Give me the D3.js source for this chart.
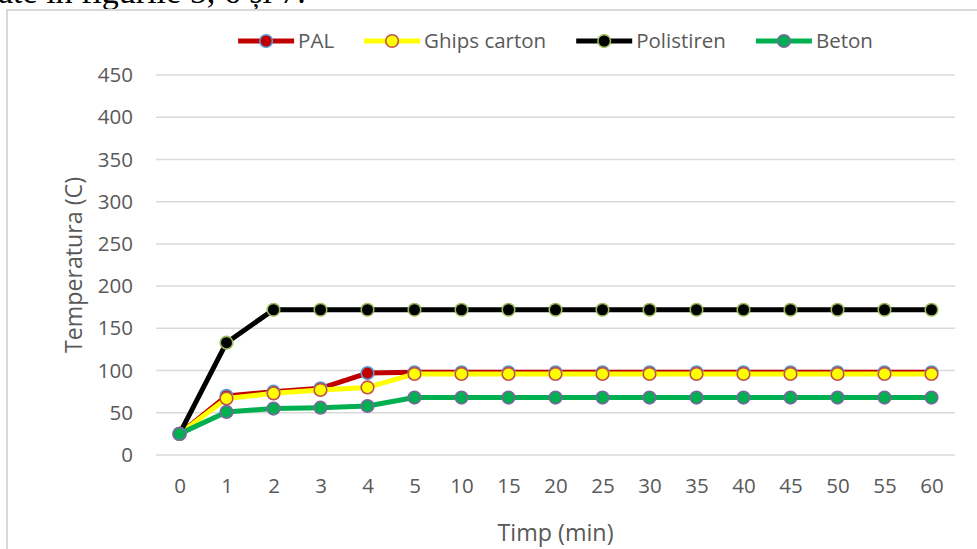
<!DOCTYPE html>
<html>
<head>
<meta charset="utf-8">
<script src="https://cdn.jsdelivr.net/npm/d3@7"></script>
<style>
  body { margin: 0; background: #fff; }
  svg { display: block; }
</style>
</head>
<body>
<div id="chart"></div>
<script>
// Data
const categories = ["0", "1", "2", "3", "4", "5", "10", "15", "20", "25", "30", "35", "40", "45", "50", "55", "60"];
const pal        = [25, 70, 75, 79, 97, 98, 98, 98, 98, 98, 98, 98, 98, 98, 98, 98, 98];
const ghips      = [25, 67, 73, 77, 80, 96, 96, 96, 96, 96, 96, 96, 96, 96, 96, 96, 96];
const polistiren = [25, 133, 172, 172, 172, 172, 172, 172, 172, 172, 172, 172, 172, 172, 172, 172, 172];
const beton      = [25, 51, 55, 56, 58, 68, 68, 68, 68, 68, 68, 68, 68, 68, 68, 68, 68];
const yTicks = [0, 50, 100, 150, 200, 250, 300, 350, 400, 450];

const series = [
  { name: "PAL", values: pal, line: "#C00000", fill: "#C00000", edge: "#5B9BD5" },
  { name: "Ghips carton", values: ghips, line: "#FFFF00", fill: "#FFFF00", edge: "#C0504D" },
  { name: "Polistiren", values: polistiren, line: "#000000", fill: "#000000", edge: "#9BBB59" },
  { name: "Beton", values: beton, line: "#00B050", fill: "#00B050", edge: "#8064A2" },
];

const width = 977, height = 549;
const plot = { left: 156, right: 955, top: 75, bottom: 455 };
const font = "'Open Sans', sans-serif";
const textColor = "#595959";

const svg = d3.select("#chart").append("svg")
  .attr("width", width)
  .attr("height", height);

// cut-off line of document text above the chart
svg.append("text")
  .attr("x", -2)
  .attr("y", 3)
  .attr("font-family", "'Liberation Serif', serif")
  .attr("font-size", 34)
  .attr("fill", "#000")
  .text("ate în figurile 5, 6 și 7.");

// chart frame
svg.append("path")
  .attr("d", `M7,${height} V10 H${width}`)
  .attr("fill", "none")
  .attr("stroke", "#d9d9d9")
  .attr("stroke-width", 2);

const x = d3.scalePoint().domain(categories).range([plot.left, plot.right]).padding(0.5);
const y = d3.scaleLinear().domain([0, 450]).range([plot.bottom, plot.top]);

// gridlines
svg.append("g")
  .selectAll("line")
  .data(yTicks)
  .join("line")
  .attr("x1", plot.left)
  .attr("x2", plot.right)
  .attr("y1", d => y(d))
  .attr("y2", d => y(d))
  .attr("stroke", "#d9d9d9")
  .attr("stroke-width", 1.5);

// y axis labels
const yAxis = svg.append("g")
  .attr("transform", "translate(" + (plot.left - 13) + ",0)")
  .call(d3.axisLeft(y).tickValues(yTicks).tickSize(0).tickPadding(10));
yAxis.select(".domain").remove();
yAxis.selectAll("text")
  .attr("font-family", font)
  .attr("font-size", 20.5)
  .attr("fill", textColor);

// x axis labels
const xAxis = svg.append("g")
  .attr("transform", "translate(0," + plot.bottom + ")")
  .call(d3.axisBottom(x).tickSize(0).tickPadding(23));
xAxis.select(".domain").remove();
xAxis.selectAll("text")
  .attr("font-family", font)
  .attr("font-size", 20.5)
  .attr("fill", textColor);

// axis titles
svg.append("text")
  .attr("x", (plot.left + plot.right) / 2)
  .attr("y", 541)
  .attr("text-anchor", "middle")
  .attr("font-family", font)
  .attr("font-size", 23.3)
  .attr("fill", textColor)
  .text("Timp (min)");

svg.append("text")
  .attr("transform", "translate(82,265) rotate(-90)")
  .attr("text-anchor", "middle")
  .attr("font-family", font)
  .attr("font-size", 23.2)
  .attr("fill", textColor)
  .text("Temperatura (C)");

// series
const line = d3.line()
  .x((d, i) => x(categories[i]))
  .y(d => y(d));

series.forEach(s => {
  const g = svg.append("g");
  g.append("path")
    .datum(s.values)
    .attr("d", line)
    .attr("fill", "none")
    .attr("stroke", s.line)
    .attr("stroke-width", 5)
    .attr("stroke-linejoin", "round");
  g.selectAll("circle")
    .data(s.values)
    .join("circle")
    .attr("cx", (d, i) => x(categories[i]))
    .attr("cy", d => y(d))
    .attr("r", 6.3)
    .attr("fill", s.fill)
    .attr("stroke", s.edge)
    .attr("stroke-width", 1.6);
});

// legend, centered over the plot
const legend = svg.append("g");
const items = legend.selectAll("g")
  .data(series)
  .join("g");
items.append("line")
  .attr("x1", 0).attr("x2", 56)
  .attr("y1", 0).attr("y2", 0)
  .attr("stroke", d => d.line)
  .attr("stroke-width", 5);
items.append("circle")
  .attr("cx", 28).attr("cy", 0)
  .attr("r", 6.3)
  .attr("fill", d => d.fill)
  .attr("stroke", d => d.edge)
  .attr("stroke-width", 1.6);
items.append("text")
  .attr("x", 60)
  .attr("dy", "0.35em")
  .attr("font-family", font)
  .attr("font-size", 20.5)
  .attr("fill", textColor)
  .text(d => d.name);

let offset = 0;
items.each(function () {
  const w = 60 + this.querySelector("text").getComputedTextLength();
  d3.select(this).attr("transform", "translate(" + offset + ",0)");
  offset += w + 30;
});
const total = offset - 30;
legend.attr("transform", "translate(" + ((plot.left + plot.right) / 2 - total / 2) + ",41)");
</script>
</body>
</html>
